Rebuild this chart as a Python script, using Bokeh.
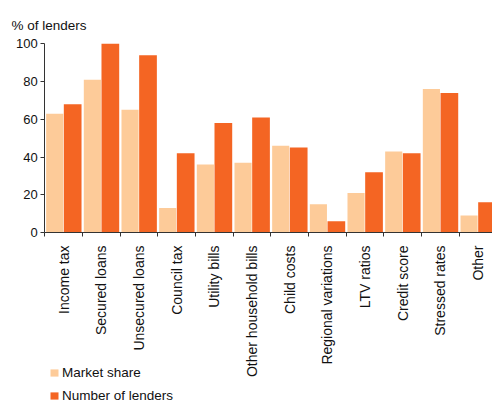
import numpy as np
from bokeh.plotting import figure
from bokeh.models import (ColumnDataSource, Range1d, FixedTicker, Legend, LegendItem, Label, LinearAxis)
from bokeh.transform import dodge
from bokeh.embed import file_html
from bokeh.resources import INLINE
import math

categories = ["Income tax", "Secured loans", "Unsecured loans", "Council tax", "Utility bills",
              "Other household bills", "Child costs", "Regional variations", "LTV ratios",
              "Credit score", "Stressed rates", "Other"]
market_share = [63, 81, 65, 13, 36, 37, 46, 15, 21, 43, 76, 9]
number_of_lenders = [68, 100, 94, 42, 58, 61, 45, 6, 32, 42, 74, 16]
y_ticks = [0, 20, 40, 60, 80, 100]

LIGHT = "#FDCB99"
DARK = "#F46523"
FONT = "Liberation Sans"
TXT = "#111111"
AX = "#333333"

centers = [i + 0.5 for i in range(len(categories))]
src = ColumnDataSource(dict(x=centers, ms=market_share, nl=number_of_lenders))

p = figure(width=492, height=403, output_backend="svg", toolbar_location=None,
           x_range=Range1d(-1.176, 11.885), y_range=Range1d(-90.6, 122.95),
           x_axis_location=None, y_axis_location=None,
           min_border_left=0, min_border_right=0, min_border_top=0, min_border_bottom=0)
p.outline_line_color = None
p.xgrid.visible = False
p.ygrid.visible = False

r1 = p.vbar(x=dodge('x', -0.237, range=p.x_range), top='ms', width=0.455, source=src,
            fill_color=LIGHT, line_color=None)
r2 = p.vbar(x=dodge('x', 0.24, range=p.x_range), top='nl', width=0.47, source=src,
            fill_color=DARK, line_color=None)

xa = LinearAxis(fixed_location=0, bounds=(0, 12))
xa.ticker = FixedTicker(ticks=centers, minor_ticks=list(range(len(categories) + 1)))
xa.major_label_overrides = {c: lab for c, lab in zip(centers, categories)}
xa.major_label_orientation = math.pi / 2
xa.major_tick_line_color = None
xa.major_tick_in = 0
xa.major_tick_out = 0
xa.minor_tick_in = 0
xa.minor_tick_out = 4
xa.minor_tick_line_color = AX
xa.axis_line_color = AX
xa.major_label_text_font = FONT
xa.major_label_text_font_size = "14px"
xa.major_label_text_color = TXT
xa.major_label_standoff = 9
p.add_layout(xa, "below")

ya = LinearAxis(fixed_location=0, bounds=(0, 100))
ya.ticker = FixedTicker(ticks=y_ticks)
ya.minor_tick_line_color = None
ya.major_tick_in = 0
ya.major_tick_out = 4
ya.major_tick_line_color = AX
ya.axis_line_color = AX
ya.major_label_text_font = FONT
ya.major_label_text_font_size = "13px"
ya.major_label_text_color = TXT
ya.major_label_standoff = 3
p.add_layout(ya, "left")

title = Label(x=11, y=378, x_units="screen", y_units="screen", text="% of lenders",
              text_font=FONT, text_font_size="13.5px", text_color=TXT,
              text_baseline="alphabetic")
p.add_layout(title)

legend = Legend(items=[LegendItem(label="Market share", renderers=[r1]),
                       LegendItem(label="Number of lenders", renderers=[r2])],
                location=(49, 0), orientation="vertical",
                glyph_width=10, glyph_height=9, label_height=14, spacing=8,
                label_standoff=3, padding=0, margin=0,
                border_line_color=None, background_fill_alpha=0,
                label_text_font=FONT, label_text_font_size="13.5px", label_text_color=TXT)
p.add_layout(legend)

open("out.html", "w").write(file_html(p, INLINE))
